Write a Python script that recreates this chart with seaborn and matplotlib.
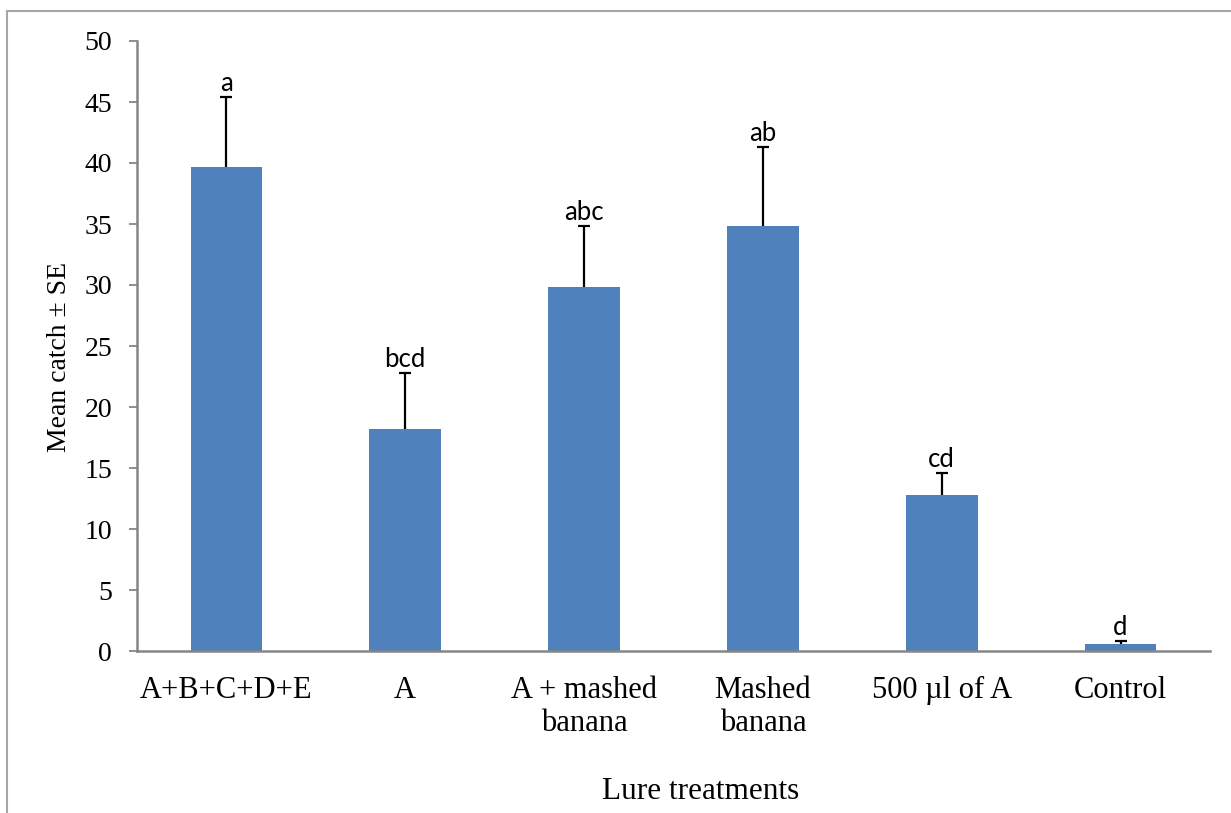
import matplotlib
matplotlib.use("Agg")
import matplotlib.pyplot as plt
from matplotlib.lines import Line2D
import seaborn as sns
import pandas as pd

# Trap catches per lure treatment
treatments = ["A+B+C+D+E", "A", "A + mashed\nbanana", "Mashed\nbanana", "500 µl of A", "Control"]
mean_catch = [39.7, 18.2, 29.8, 34.8, 12.8, 0.6]
se_catch = [5.7, 4.6, 5.0, 6.5, 1.8, 0.2]
letters = ["a", "bcd", "abc", "ab", "cd", "d"]
y_ticks = [0, 5, 10, 15, 20, 25, 30, 35, 40, 45, 50]

df = pd.DataFrame({"treatment": treatments, "mean": mean_catch, "se": se_catch})

sns.set_theme(style="white")
plt.rcParams["font.family"] = ["Liberation Serif", "DejaVu Serif"]

W, H = 1231, 813
fig = plt.figure(figsize=(W / 100, H / 100), dpi=100)
ax = fig.add_axes([137 / W, 1 - 651 / H, (1210 - 137) / W, (651 - 41) / H])

bar_color = "#4F81BD"
sns.barplot(data=df, x="treatment", y="mean", color=bar_color, width=0.4,
            saturation=1, errorbar=None, ax=ax, edgecolor="none")

# Upper-only standard error whiskers with a cap at the top end
xpos = list(range(len(treatments)))
tops = [m + s for m, s in zip(mean_catch, se_catch)]
ax.errorbar(xpos, mean_catch, yerr=[[0] * len(se_catch), se_catch],
            fmt="none", ecolor="black", elinewidth=1.6, capsize=0)
ax.plot(xpos, tops, linestyle="none", marker="_", markersize=8.5,
        markeredgewidth=1.6, color="black")

for i, (top, lab) in enumerate(zip(tops, letters)):
    ax.annotate(lab, xy=(i, top), xytext=(0, 0.8), textcoords="offset points",
                ha="center", va="bottom", fontsize=18.5,
                family=["Lato", "DejaVu Sans"], color="black")

ax.set_ylim(0, 50)
ax.set_xlim(-0.5, len(treatments) - 0.5)
ax.set_yticks(y_ticks)
ax.set_yticklabels([str(t) for t in y_ticks], fontsize=20)
ax.tick_params(axis="y", which="both", left=True, length=6, width=1.3,
               color="#868686", pad=12, labelcolor="black")
ax.tick_params(axis="x", bottom=False, labelsize=22, pad=12, labelcolor="black")
for lbl in ax.get_xticklabels():
    lbl.set_linespacing(1.2)

ax.set_xlabel("")
ax.set_ylabel("")

for side in ["top", "right"]:
    ax.spines[side].set_visible(False)
for side in ["left", "bottom"]:
    ax.spines[side].set_color("#868686")
    ax.spines[side].set_linewidth(1.8)

fig.text(60 / W, 1 - 357 / H, "Mean catch ± SE", rotation=90, ha="center",
         va="center", fontsize=20, color="black")
fig.text(701 / W, 1 - 791 / H, "Lure treatments", ha="center", va="center",
         fontsize=22.5, color="black")

# Outer frame lines (top and left)
frame_color = "#A6A6A6"
fig.add_artist(Line2D([7 / W, 1.0], [1 - 11 / H, 1 - 11 / H],
                      transform=fig.transFigure, color=frame_color, lw=1.5))
fig.add_artist(Line2D([7 / W, 7 / W], [0.0, 1 - 11 / H],
                      transform=fig.transFigure, color=frame_color, lw=1.5))

fig.savefig("out.png", dpi=100, facecolor="white")
